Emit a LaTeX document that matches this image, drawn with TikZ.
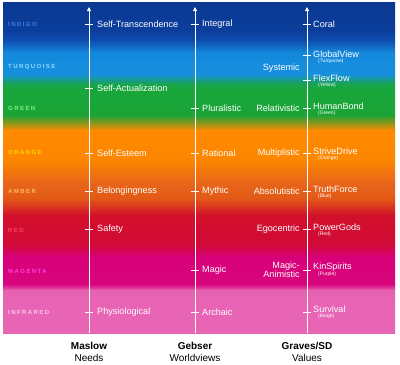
\documentclass[tikz,border=0pt]{standalone}
\usepackage{fontspec}
\setmainfont{Liberation Sans}
\usetikzlibrary{arrows.meta}
\definecolor{indA}{HTML}{0A3890}
\definecolor{indB}{HTML}{0B3E9C}
\definecolor{indC}{HTML}{0E4CB0}
\definecolor{turA}{HTML}{1488DC}
\definecolor{turB}{HTML}{1690DE}
\definecolor{grnA}{HTML}{18A44A}
\definecolor{grnB}{HTML}{18A63A}
\definecolor{grnC}{HTML}{1AA436}
\definecolor{ornA}{HTML}{FF8A00}
\definecolor{ornB}{HTML}{FC8600}
\definecolor{ambA}{HTML}{E8661A}
\definecolor{ambB}{HTML}{E25A16}
\definecolor{redA}{HTML}{D2102A}
\definecolor{redB}{HTML}{D00A38}
\definecolor{magA}{HTML}{D80078}
\definecolor{magB}{HTML}{D8067E}
\definecolor{infA}{HTML}{E862B2}
\definecolor{infB}{HTML}{E866B6}
\definecolor{tIndigo}{HTML}{3A80E8}
\definecolor{tTurq}{HTML}{8FDCFF}
\definecolor{tGreen}{HTML}{80F080}
\definecolor{tOrange}{HTML}{FFD800}
\definecolor{tAmber}{HTML}{FFB860}
\definecolor{tRed}{HTML}{FF4060}
\definecolor{tMag}{HTML}{FF40E0}
\definecolor{tInf}{HTML}{FFC8EC}
\newfontfamily\bandfont[LetterSpace=24]{Liberation Sans}
\begin{document}
\begin{tikzpicture}[x=1pt,y=-1pt,
  lab/.style={text=white, font=\fontsize{9.1}{10}\selectfont, inner sep=0pt},
  sublab/.style={text=white, font=\fontsize{5}{5}\selectfont, anchor=north west, inner sep=0pt},
  band/.style={font=\bandfont\bfseries\fontsize{6}{7}\selectfont, anchor=west, inner sep=0pt},
  axis/.style={draw=white, line width=0.9pt, -{Triangle[length=4pt,width=4pt]}},
  tick/.style={draw=white, line width=0.8pt},
  foot/.style={font=\fontsize{10}{12}\selectfont, inner sep=0pt}]
\useasboundingbox (0,0) rectangle (400,365);
\fill[white] (0,0) rectangle (400,365);
\foreach \ya/\ca/\yb/\cb in {2/indA/30/indB, 30/indB/40/indC, 40/indC/52/turA, 52/turA/74/turB,
  74/turB/84/grnA, 84/grnA/90/grnB, 90/grnB/115/grnC, 115/grnC/130/ornA, 130/ornA/160/ornB,
  160/ornB/182/ambA, 182/ambA/198/ambB, 198/ambB/215/redA, 215/redA/245/redB, 245/redB/256/magA,
  256/magA/284/magB, 284/magB/290/infA, 290/infA/333/infB}
  \shade[top color=\ca, bottom color=\cb] (3,\ya) rectangle (395,\yb+0.6);
% band names
\node[band, text=tIndigo] (bInd) at (8,24) {INDIGO};
\node[band, text=tTurq] (bTur) at (8,67) {TURQUOISE};
\node[band, text=tGreen] (bGrn) at (8,108) {GREEN};
\node[band, text=tOrange] (bOrn) at (8,152) {ORANGE};
\node[band, text=tAmber] (bAmb) at (8,191) {AMBER};
\node[band, text=tRed] (bRed) at (8,230) {RED};
\node[band, text=tMag] (bMag) at (8,271) {MAGENTA};
\node[band, text=tInf] (bInf) at (8,312) {INFRARED};
% axes
\foreach \n/\x in {m/89, g/195, s/307}{
  \coordinate (\n bot) at (\x,333);
  \coordinate (\n top) at (\x,7);
  \draw[axis] (\n bot) -- (\n top);
}
% ticks
\foreach \n/\x/\ys in {m/89/{24,88,153,191,229,312}, g/195/{24,108,153,191,270,312}, s/307/{24,55,80,108,153,191,229,270,312}}{
  \foreach \y in \ys {
    \coordinate (\n l\y) at (\x-4,\y);
    \coordinate (\n r\y) at (\x+4,\y);
    \draw[tick] (\n l\y) -- (\n r\y);
  }
}
% Maslow
\node[lab, anchor=west] (m1) at (97,24) {Self-Transcendence};
\node[lab, anchor=west] (m2) at (97,88) {Self-Actualization};
\node[lab, anchor=west] (m3) at (97,153) {Self-Esteem};
\node[lab, anchor=west] (m4) at (97,191) {Belongingness};
\node[lab, anchor=west] (m5) at (97,229) {Safety};
\node[lab, anchor=west] (m6) at (97,312) {Physiological};
% Gebser
\node[lab, anchor=west] (g1) at (202,24) {Integral};
\node[lab, anchor=west] (g2) at (202,108) {Pluralistic};
\node[lab, anchor=west] (g3) at (202,153) {Rational};
\node[lab, anchor=west] (g4) at (202,191) {Mythic};
\node[lab, anchor=west] (g5) at (202,270) {Magic};
\node[lab, anchor=west] (g6) at (202,312) {Archaic};
% Graves left
\node[lab, anchor=east] (l1) at (300,68) {Systemic};
\node[lab, anchor=east] (l2) at (300,108) {Relativistic};
\node[lab, anchor=east] (l3) at (300,153) {Multiplistic};
\node[lab, anchor=east] (l4) at (300,191) {Absolutistic};
\node[lab, anchor=east] (l5) at (300,229) {Egocentric};
\node[lab, anchor=east, align=right, font=\fontsize{9.1}{9}\selectfont] (l6) at (300,270) {Magic-\\Animistic};
% Graves right
\node[lab, anchor=west] (s1) at (313,24) {Coral};
\node[lab, anchor=west] (s2) at (313,54) {GlobalView};
\node[sublab] (s2s) at (318,59) {(Turquoise)};
\node[lab, anchor=west] (s3) at (313,78) {FlexFlow};
\node[sublab] (s3s) at (318,83) {(Yellow)};
\node[lab, anchor=west] (s4) at (313,106) {HumanBond};
\node[sublab] (s4s) at (318,111) {(Green)};
\node[lab, anchor=west] (s5) at (313,151) {StriveDrive};
\node[sublab] (s5s) at (318,156) {(Orange)};
\node[lab, anchor=west] (s6) at (313,189) {TruthForce};
\node[sublab] (s6s) at (318,194) {(Blue)};
\node[lab, anchor=west] (s7) at (313,227) {PowerGods};
\node[sublab] (s7s) at (318,232) {(Red)};
\node[lab, anchor=west] (s8) at (313,267) {KinSpirits};
\node[sublab] (s8s) at (318,272) {(Purple)};
\node[lab, anchor=west] (s9) at (313,309) {Survival};
\node[sublab] (s9s) at (318,314) {(Beige)};
% footers
\node[foot, font=\fontsize{10}{12}\selectfont\bfseries] (f1) at (89,346) {Maslow};
\node[foot] (f1b) at (89,358) {Needs};
\node[foot, font=\fontsize{10}{12}\selectfont\bfseries] (f2) at (195,346) {Gebser};
\node[foot] (f2b) at (195,358) {Worldviews};
\node[foot, font=\fontsize{10}{12}\selectfont\bfseries] (f3) at (307,346) {Graves/SD};
\node[foot] (f3b) at (307,358) {Values};
\end{tikzpicture}
\end{document}
